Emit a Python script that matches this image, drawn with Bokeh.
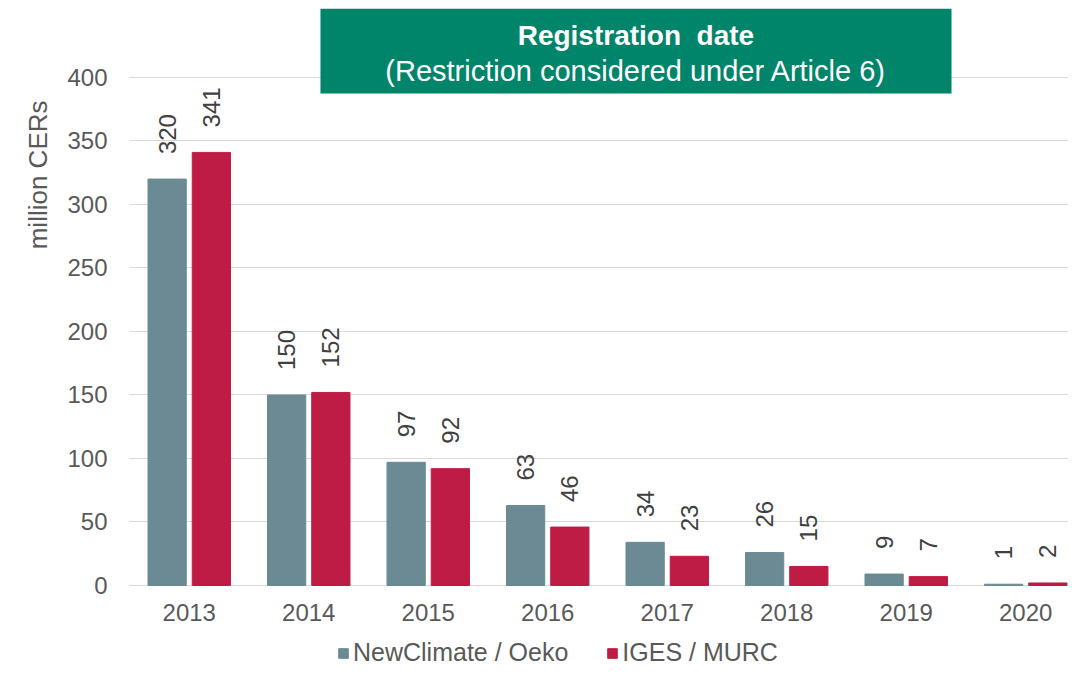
import math
from bokeh.plotting import figure
from bokeh.models import (ColumnDataSource, Range1d, FixedTicker, Legend,
                          LegendItem, Title)
from bokeh.transform import dodge
from bokeh.core.properties import value
from bokeh.embed import file_html
from bokeh.resources import INLINE

# ---- data ----
years = ["2013", "2014", "2015", "2016", "2017", "2018", "2019", "2020"]
newclimate_oeko = [320, 150, 97, 63, 34, 26, 9, 1]
iges_murc = [341, 152, 92, 46, 23, 15, 7, 2]
series_names = ["NewClimate / Oeko", "IGES / MURC"]
y_ticks = [0, 50, 100, 150, 200, 250, 300, 350, 400]
y_label = "million CERs"
title_line1 = "Registration\u00a0\u00a0date"
title_line2 = "(Restriction considered under Article 6)"

# ---- styles ----
FONT = "Liberation Sans"
GREY = "#6B8A93"
RED = "#BE1C45"
GREEN = "#00856B"
TICK_COLOR = "#595959"
LABEL_COLOR = "#404040"

idx = list(range(len(years)))
src = ColumnDataSource(dict(
    x=idx,
    a=newclimate_oeko,
    b=iges_murc,
    a_lbl=[str(v) for v in newclimate_oeko],
    b_lbl=[str(v) for v in iges_murc],
))
ysrc = ColumnDataSource(dict(x=idx, y=[0] * len(idx), year=years))

p = figure(width=1068, height=668, output_backend="svg", toolbar_location=None,
           x_range=Range1d(-0.5, 7.358), y_range=Range1d(-65.35, 454.3),
           min_border_left=129, min_border_right=0, min_border_top=8,
           min_border_bottom=0, x_axis_location=None)
p.outline_line_color = None
p.background_fill_color = "white"

p.xgrid.grid_line_color = None
p.ygrid.grid_line_color = "#D9D9D9"
p.ygrid.grid_line_width = 1
p.ygrid.ticker = FixedTicker(ticks=y_ticks)

OFF = 0.185
W = 0.32
r1 = p.vbar(x=dodge("x", -OFF), top="a", width=W, source=src, color=GREY)
r2 = p.vbar(x=dodge("x", OFF), top="b", width=W, source=src, color=RED)

for col, off in (("a", -OFF), ("b", OFF)):
    p.text(x=dodge("x", off), y=col, text=col + "_lbl", source=src,
           angle=math.pi / 2, text_align="left", text_baseline="middle",
           y_offset=-25, text_font=value(FONT), text_font_size="24px",
           text_color=LABEL_COLOR)

# category (year) labels under the zero line
p.text(x="x", y="y", text="year", source=ysrc, text_align="center",
       text_baseline="middle", y_offset=27, text_font=value(FONT),
       text_font_size="24px", text_color=TICK_COLOR)

# title box (annotation, in data space at the top of the frame)
p.quad(left=[1.098], right=[6.379], bottom=[387.4], top=[454.3],
       fill_color=GREEN, line_color=None)
p.text(x=[3.738], y=[433], text=[title_line1], text_align="center",
       text_baseline="middle", text_font=value(FONT), text_font_size="28px",
       text_font_style="bold", text_color="white")
p.text(x=[3.738], y=[405], text=[title_line2], text_align="center",
       text_baseline="middle", text_font=value(FONT), text_font_size="29px",
       text_color="white")

# y axis
ya = p.yaxis[0]
ya.ticker = FixedTicker(ticks=y_ticks)
ya.axis_line_color = None
ya.major_tick_line_color = None
ya.minor_tick_line_color = None
ya.major_label_text_font = FONT
ya.major_label_text_font_size = "24px"
ya.major_label_text_color = TICK_COLOR
ya.major_label_standoff = 16

# axis title, aligned toward the top like the reference
ytitle = Title(text=y_label, align="right", offset=92, standoff=23,
               text_font=FONT, text_font_size="26px", text_font_style="normal",
               text_color=TICK_COLOR)
p.add_layout(ytitle, "left")

legend = Legend(items=[LegendItem(label=series_names[0], renderers=[r1]),
                       LegendItem(label=series_names[1], renderers=[r2])],
                location=(208, 1), orientation="horizontal",
                glyph_width=12, glyph_height=12, label_standoff=4, spacing=38,
                padding=0, margin=0, border_line_color=None,
                background_fill_alpha=0, label_text_font=FONT,
                label_text_font_size="25px", label_text_color=TICK_COLOR)
p.add_layout(legend, "center")

open("out.html", "w").write(file_html(p, INLINE))
